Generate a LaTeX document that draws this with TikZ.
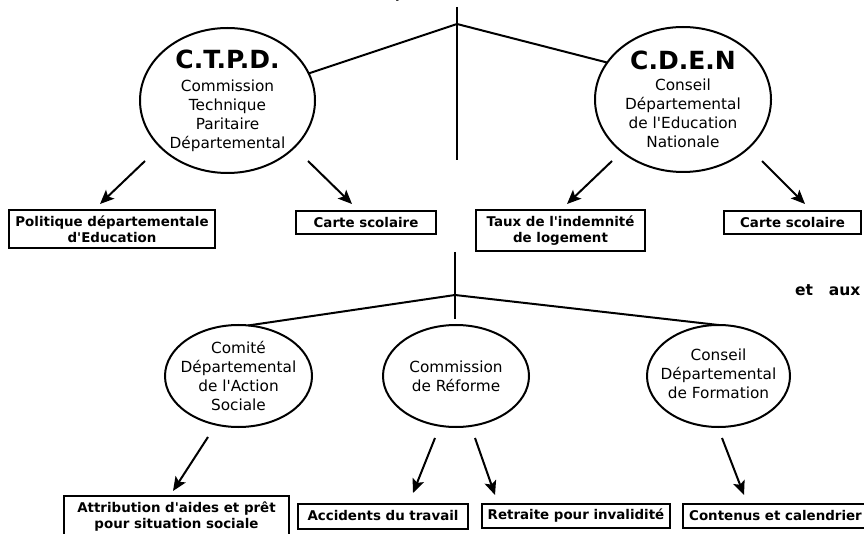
\documentclass[tikz,border=0pt]{standalone}
\usepackage{fontspec}
\setmainfont{DejaVu Sans}[Ligatures=TeXOff]
\usetikzlibrary{shapes.geometric,arrows.meta}
\newcommand\regf{\fontsize{15.3}{19}\selectfont}
\newcommand\boxf{\fontsize{13.4}{15.5}\selectfont\bfseries}
\newcommand\bigf{\fontsize{25}{25}\selectfont\bfseries}
\begin{document}
\begin{tikzpicture}[x=1pt,y=-1pt,
  line width=2pt,
  ell/.style={draw, ellipse, inner sep=-16pt, outer sep=0pt, align=center, font=\regf},
  lbox/.style={draw, rectangle, inner sep=0pt, outer sep=0pt, align=center, font=\boxf},
  arr/.style={-{Stealth[length=14pt,width=12pt,inset=3pt]}},
]
\useasboundingbox (0,0) rectangle (864,534);

% fragments of text cut by the frame
\node[anchor=base, font=\boxf, inner sep=0pt] (frag) at (400,-1) {p};
\node[anchor=base west, font=\fontsize{15.5}{16}\selectfont\bfseries, inner sep=0pt] (etaux) at (794,296) {et\hspace{16pt}aux};

% top ellipses
\node[ell, minimum width=175pt, minimum height=145pt] (ctpd) at (227.5,100.5)
  {{\bigf C.T.P.D.}\\[4pt]Commission\\Technique\\Paritaire\\Départemental};
\node[ell, minimum width=176pt, minimum height=145pt] (cden) at (683,99.5)
  {{\bigf C.D.E.N}\\[2pt]Conseil\\Départemental\\de l'Education\\Nationale};

% top tree
\coordinate (t1) at (457,7);
\coordinate (j1) at (457,24);
\coordinate (t2) at (457,160);
\draw (t1) -- (t2);
\draw (j1) -- (ctpd);
\draw (j1) -- (cden.154);

% top boxes
\node[lbox, minimum width=206pt, minimum height=38pt] (pol) at (112,229) {Politique départementale\\d'Education};
\node[lbox, minimum width=140pt, minimum height=23pt] (cs1) at (366,222.5) {Carte scolaire};
\node[lbox, minimum width=169pt, minimum height=41pt] (taux) at (560.5,230.5) {Taux de l'indemnité\\de logement};
\node[lbox, minimum width=137pt, minimum height=23pt] (cs2) at (792.5,222.5) {Carte scolaire};

% top arrows
\coordinate (a1s) at (145,161); \coordinate (a1e) at (100,204);
\coordinate (a2s) at (308,161); \coordinate (a2e) at (352,204);
\coordinate (a3s) at (612,161); \coordinate (a3e) at (567,204);
\coordinate (a4s) at (762,161); \coordinate (a4e) at (805,204);
\draw[arr] (a1s) -- (a1e);
\draw[arr] (a2s) -- (a2e);
\draw[arr] (a3s) -- (a3e);
\draw[arr] (a4s) -- (a4e);

% lower ellipses
\node[ell, minimum width=147pt, minimum height=102pt] (com) at (238.5,376)
  {Comité\\Départemental\\de l'Action\\Sociale};
\node[ell, minimum width=146pt, minimum height=102pt] (ref) at (456,376)
  {Commission\\de Réforme};
\node[ell, minimum width=143pt, minimum height=102pt, text depth=4pt] (form) at (718.5,376)
  {Conseil\\Départemental\\de Formation};

% lower tree
\coordinate (m1) at (455,252);
\coordinate (j2) at (455,295);
\coordinate (m2) at (455,319);
\draw (m1) -- (m2);
\draw (j2) -- (com.79);
\draw (j2) -- (form.north);

% lower boxes
\node[lbox, minimum width=225pt, minimum height=41pt] (attr) at (176.5,516.5) {Attribution d'aides et prêt\\pour situation sociale};
\node[lbox, minimum width=170pt, minimum height=25pt] (acc) at (383,516) {Accidents du travail};
\node[lbox, minimum width=188pt, minimum height=24pt] (retr) at (576,516) {Retraite pour invalidité};
\node[lbox, minimum width=185pt, minimum height=24pt] (cont) at (775.5,516) {Contenus et calendrier};

% lower arrows
\coordinate (b1s) at (208,437); \coordinate (b1e) at (173,491);
\coordinate (b2s) at (435,438); \coordinate (b2e) at (413,493);
\coordinate (b3s) at (475,438); \coordinate (b3e) at (495,495);
\coordinate (b4s) at (722,438); \coordinate (b4e) at (744,495);
\draw[arr] (b1s) -- (b1e);
\draw[arr] (b2s) -- (b2e);
\draw[arr] (b3s) -- (b3e);
\draw[arr] (b4s) -- (b4e);
\end{tikzpicture}
\end{document}
